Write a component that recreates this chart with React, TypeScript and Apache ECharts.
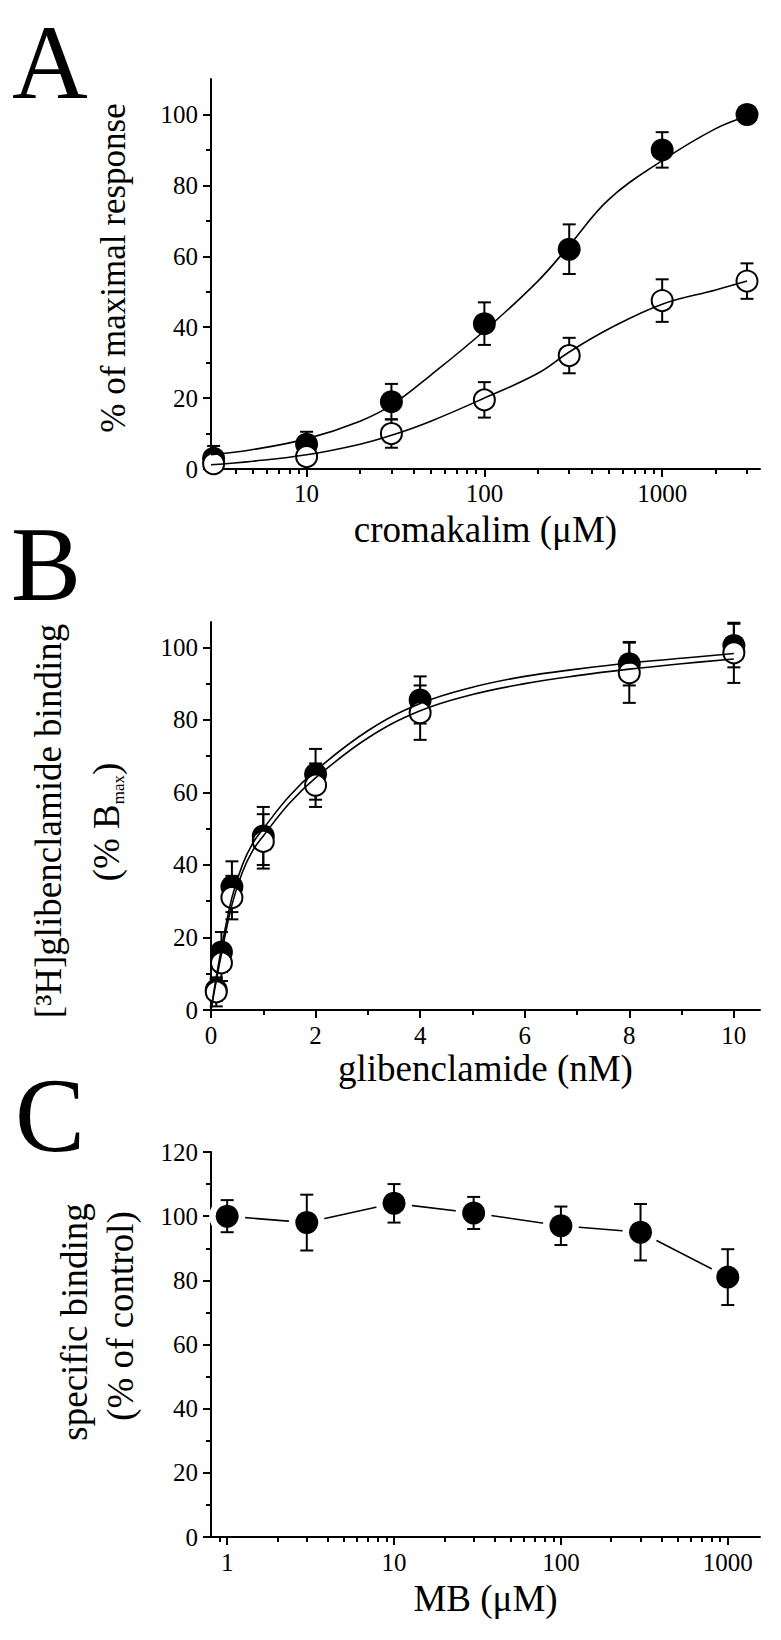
import React, { useEffect, useRef } from 'react';
import * as echarts from 'echarts';

const FONT = '"Liberation Serif", "Times New Roman", serif';

// ---------- Panel A: cromakalim concentration-response ----------
const cromakalimDoses = [3, 10, 30, 100, 300, 1000, 3000];
const controlResponse = [3, 7, 19, 41, 62, 90, 100];
const controlResponseErr = [3.5, 3.5, 5, 6, 7, 5, 1];
const mbResponse = [1.5, 3.5, 10, 19.5, 32, 47.5, 53];
const mbResponseErr = [1, 1, 4, 5, 5, 6, 5];
const fitDosesA = [2.9, 5, 10, 20, 30, 50, 100, 200, 300, 500, 1000, 2000, 3000];
const controlFitA = [4, 5.5, 8.5, 13.5, 18, 26.5, 39, 53, 63, 76, 87, 96, 99.5];
const mbFitA = [1.2, 2.2, 4, 7, 9.5, 13.5, 20, 27, 33, 39.5, 46.5, 50.5, 53];
const xTicksA = [10, 100, 1000];
const xMinorTicksA = [4, 5, 6, 7, 8, 9, 20, 30, 40, 50, 60, 70, 80, 90, 200, 300, 400, 500, 600, 700, 800, 900, 2000, 3000];
const yTicksA = [0, 20, 40, 60, 80, 100];
const yMinorTicksA = [10, 30, 50, 70, 90];

// ---------- Panel B: [3H]glibenclamide saturation binding ----------
const glibDoses = [0.1, 0.2, 0.4, 1, 2, 4, 8, 10];
const controlBinding = [5.5, 16, 34, 48, 65, 85.5, 95.5, 100.5];
const controlBindingErr = [3, 5.5, 7, 8, 7, 6.5, 6, 6];
const mbBinding = [5, 13, 31, 46.5, 62, 82, 93, 98.5];
const mbBindingErr = [4, 5, 6, 7.5, 6, 7.5, 8.3, 8.3];
const fitDosesB = [0, 0.1, 0.2, 0.4, 0.6, 0.8, 1, 1.5, 2, 3, 4, 5, 6, 7, 8, 9, 10];
const controlFitB = [0, 9, 17, 31, 40, 46, 50, 59, 66, 77, 84.5, 89, 92, 94, 95.7, 97, 98.3];
const mbFitB = [0, 8, 15.5, 29, 38, 44, 48, 57, 64, 75, 82.5, 87, 90, 92.2, 94, 95.5, 96.8];
const xTicksB = [0, 2, 4, 6, 8, 10];
const xMinorTicksB = [1, 3, 5, 7, 9];
const yTicksB = [0, 20, 40, 60, 80, 100];
const yMinorTicksB = [10, 30, 50, 70, 90];

// ---------- Panel C: MB effect on specific binding ----------
const mbConc = [1, 3, 10, 30, 100, 300, 1000];
const specificBinding = [100, 98, 104, 101, 97, 95, 81];
const specificBindingErr = [5, 8.7, 6, 5, 6, 8.8, 8.7];
const xTicksC = [1, 10, 100, 1000];
const xMinorTicksC = [0.9, 2, 3, 4, 5, 6, 7, 8, 9, 20, 30, 40, 50, 60, 70, 80, 90, 200, 300, 400, 500, 600, 700, 800, 900];
const yTicksC = [0, 20, 40, 60, 80, 100, 120];
const yMinorTicksC = [10, 30, 50, 70, 90, 110];

const BLACK = '#000';

const pairs = (xs: number[], ys: number[]) => xs.map((x, i) => [x, ys[i]]);
const errPairs = (xs: number[], ys: number[], es: number[]) =>
  xs.map((x, i) => [x, Math.max(0, ys[i] - es[i]), ys[i] + es[i]]);

const fmt = (v: number) => String(Math.round(v * 1000) / 1000);

function errorBarItem(_params: any, api: any) {
  const x = api.value(0);
  const lo = api.coord([x, api.value(1)]);
  const hi = api.coord([x, api.value(2)]);
  const w = 6.5;
  const style = { stroke: BLACK, lineWidth: 2, fill: 'none' };
  return {
    type: 'group',
    children: [
      { type: 'line', shape: { x1: lo[0], y1: lo[1], x2: hi[0], y2: hi[1] }, style },
      { type: 'line', shape: { x1: hi[0] - w, y1: hi[1], x2: hi[0] + w, y2: hi[1] }, style },
      { type: 'line', shape: { x1: lo[0] - w, y1: lo[1], x2: lo[0] + w, y2: lo[1] }, style },
    ],
  };
}

function mainAxis(
  dim: 'x' | 'y',
  gridIndex: number,
  type: 'log' | 'value',
  min: number,
  max: number,
  ticks: number[],
  name?: string,
  nameGap?: number,
  labelMargin?: number
) {
  const ax: any = {
    type,
    gridIndex,
    min,
    max,
    position: dim === 'x' ? 'bottom' : 'left',
    axisLine: { show: true, onZero: false, lineStyle: { color: BLACK, width: 2 } },
    axisTick: { show: true, inside: false, length: 8, customValues: ticks, lineStyle: { color: BLACK, width: 2 } },
    minorTick: { show: false },
    axisLabel: {
      show: true,
      customValues: ticks,
      color: BLACK,
      fontFamily: FONT,
      fontSize: 25,
      margin: labelMargin ?? 13,
      formatter: fmt,
    },
    splitLine: { show: false },
    minorSplitLine: { show: false },
  };
  if (type === 'log') ax.logBase = 10;
  if (name) {
    ax.name = name;
    ax.nameLocation = 'middle';
    ax.nameGap = nameGap;
    ax.nameTextStyle = { fontFamily: FONT, fontSize: 37, color: BLACK };
  }
  return ax;
}

function minorAxis(dim: 'x' | 'y', gridIndex: number, type: 'log' | 'value', min: number, max: number, ticks: number[]) {
  const ax: any = {
    type,
    gridIndex,
    min,
    max,
    position: dim === 'x' ? 'bottom' : 'left',
    offset: 0,
    axisLine: { show: false, onZero: false },
    axisTick: { show: true, inside: false, length: 5, customValues: ticks, lineStyle: { color: BLACK, width: 2 } },
    axisLabel: { show: false },
    splitLine: { show: false },
  };
  if (type === 'log') ax.logBase = 10;
  return ax;
}

function yTitle(x: number, y: number, text: string, fontSize: number, rich?: any) {
  return {
    type: 'text',
    x,
    y,
    rotation: Math.PI / 2,
    style: {
      text,
      fontFamily: FONT,
      fontSize,
      fill: BLACK,
      align: 'center',
      verticalAlign: 'middle',
      ...(rich ? { rich, lineHeight: 42 } : {}),
    },
  };
}

function panelLetter(x: number, y: number, text: string) {
  return {
    type: 'text',
    x,
    y,
    style: { text, fontFamily: FONT, fontSize: 105, fill: BLACK, align: 'left', verticalAlign: 'middle' },
  };
}

function buildOption(): any {
  const filledMarker = (name: string, xi: number, yi: number, data: number[][], z: number) => ({
    name,
    type: 'scatter',
    xAxisIndex: xi,
    yAxisIndex: yi,
    data,
    symbol: 'circle',
    symbolSize: 23,
    itemStyle: { color: BLACK, borderWidth: 0, opacity: 1 },
    z,
    clip: false,
  });
  const openMarker = (name: string, xi: number, yi: number, data: number[][], z: number) => ({
    name,
    type: 'scatter',
    xAxisIndex: xi,
    yAxisIndex: yi,
    data,
    symbol: 'circle',
    symbolSize: 21,
    itemStyle: { color: '#fff', borderColor: BLACK, borderWidth: 2, opacity: 1 },
    z,
    clip: false,
  });
  const curve = (name: string, xi: number, yi: number, data: number[][], z: number, smooth: number | boolean = 0.4) => ({
    name,
    type: 'line',
    xAxisIndex: xi,
    yAxisIndex: yi,
    data,
    smooth,
    showSymbol: false,
    symbol: 'none',
    lineStyle: { color: BLACK, width: 1.6 },
    z,
    clip: false,
  });
  const errors = (name: string, xi: number, yi: number, data: number[][], z: number) => ({
    name,
    type: 'custom',
    xAxisIndex: xi,
    yAxisIndex: yi,
    data,
    encode: { x: 0, y: [1, 2] },
    renderItem: errorBarItem,
    z,
    clip: false,
  });

  return {
    animation: false,
    backgroundColor: '#fff',
    grid: [
      { left: 211, top: 79, width: 549, height: 390, containLabel: false, outerBoundsMode: 'none' },
      { left: 211, top: 622, width: 549, height: 388, containLabel: false, outerBoundsMode: 'none' },
      { left: 211, top: 1152, width: 549, height: 385, containLabel: false, outerBoundsMode: 'none' },
    ],
    xAxis: [
      mainAxis('x', 0, 'log', 2.9, 3550, xTicksA, 'cromakalim (μM)', 42, 12),
      minorAxis('x', 0, 'log', 2.9, 3550, xMinorTicksA),
      mainAxis('x', 1, 'value', 0, 10.5, xTicksB, 'glibenclamide (nM)', 40, 13),
      minorAxis('x', 1, 'value', 0, 10.5, xMinorTicksB),
      mainAxis('x', 2, 'log', 0.8, 1560, xTicksC, 'MB (μM)', 43, 13),
      minorAxis('x', 2, 'log', 0.8, 1560, xMinorTicksC),
    ],
    yAxis: [
      mainAxis('y', 0, 'value', 0, 110, yTicksA),
      minorAxis('y', 0, 'value', 0, 110, yMinorTicksA),
      mainAxis('y', 1, 'value', 0, 107, yTicksB),
      minorAxis('y', 1, 'value', 0, 107, yMinorTicksB),
      mainAxis('y', 2, 'value', 0, 120, yTicksC),
      minorAxis('y', 2, 'value', 0, 120, yMinorTicksC),
    ],
    series: [
      // Panel A
      errors('A control error', 0, 0, errPairs(cromakalimDoses, controlResponse, controlResponseErr), 2),
      errors('A MB error', 0, 0, errPairs(cromakalimDoses, mbResponse, mbResponseErr), 2),
      filledMarker('A control', 0, 0, pairs(cromakalimDoses, controlResponse), 3),
      openMarker('A MB', 0, 0, pairs(cromakalimDoses, mbResponse), 4),
      curve('A control fit', 0, 0, pairs(fitDosesA, controlFitA), 5),
      curve('A MB fit', 0, 0, pairs(fitDosesA, mbFitA), 5),
      // Panel B
      errors('B control error', 2, 2, errPairs(glibDoses, controlBinding, controlBindingErr), 2),
      errors('B MB error', 2, 2, errPairs(glibDoses, mbBinding, mbBindingErr), 2),
      filledMarker('B control', 2, 2, pairs(glibDoses, controlBinding), 3),
      openMarker('B MB', 2, 2, pairs(glibDoses, mbBinding), 4),
      curve('B control fit', 2, 2, pairs(fitDosesB, controlFitB), 5),
      curve('B MB fit', 2, 2, pairs(fitDosesB, mbFitB), 5),
      // Panel C
      curve('C line', 4, 4, pairs(mbConc, specificBinding), 1, false),
      {
        name: 'C halo',
        type: 'scatter',
        xAxisIndex: 4,
        yAxisIndex: 4,
        data: pairs(mbConc, specificBinding),
        symbol: 'circle',
        symbolSize: 36,
        itemStyle: { color: '#fff', opacity: 1 },
        z: 2,
      },
      filledMarker('C MB', 4, 4, pairs(mbConc, specificBinding), 3),
      errors('C error', 4, 4, errPairs(mbConc, specificBinding, specificBindingErr), 4),
    ],
    graphic: [
      panelLetter(12, 62, 'A'),
      panelLetter(11, 564, 'B'),
      panelLetter(15, 1115, 'C'),
      yTitle(113, 268, '% of maximal response', 35),
      yTitle(48, 821, '[³H]glibenclamide binding', 37),
      yTitle(106, 822, '(% B{s|max})', 37, {
        s: { fontFamily: FONT, fontSize: 17, lineHeight: 17, verticalAlign: 'bottom', fill: BLACK },
      }),
      yTitle(74, 1322, 'specific binding', 37),
      yTitle(120, 1316, '(% of control)', 37),
    ],
  };
}

export default function App() {
  const ref = useRef<HTMLDivElement>(null);
  useEffect(() => {
    if (!ref.current) return;
    const chart = echarts.init(ref.current, null, { renderer: 'svg', width: 781, height: 1640 });
    chart.setOption(buildOption());
    return () => {
      chart.dispose();
    };
  }, []);
  return (
    <div
      ref={ref}
      style={{ position: 'absolute', left: 0, top: 0, width: 781, height: 1640, background: '#fff' }}
    />
  );
}
